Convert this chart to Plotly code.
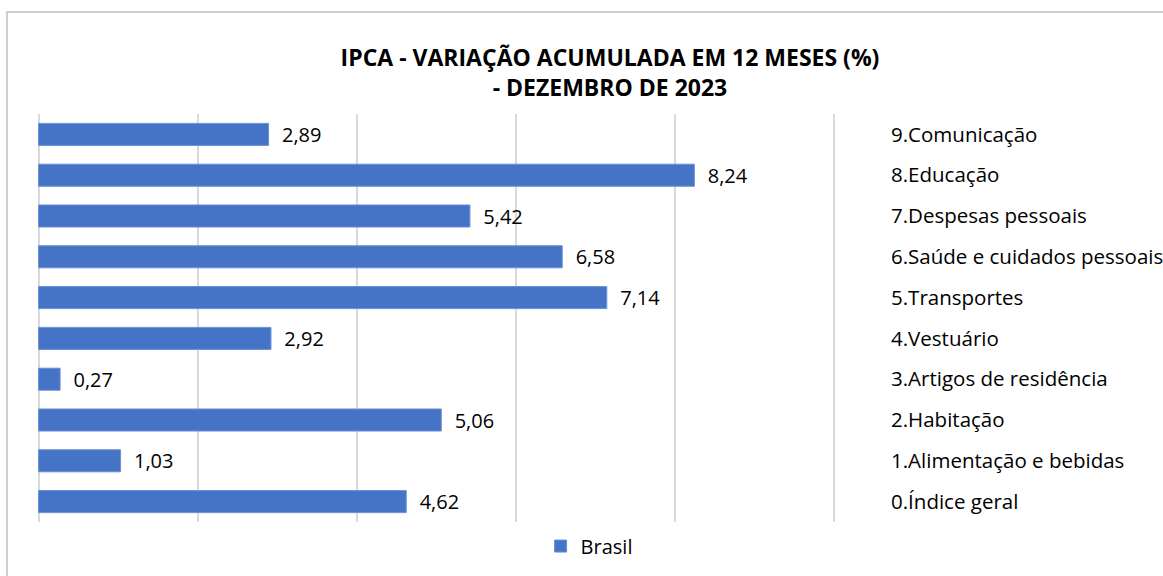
import plotly.graph_objects as go

categories = [
    "0.Índice geral",
    "1.Alimentação e bebidas",
    "2.Habitação",
    "3.Artigos de residência",
    "4.Vestuário",
    "5.Transportes",
    "6.Saúde e cuidados pessoais",
    "7.Despesas pessoais",
    "8.Educação",
    "9.Comunicação",
]
values = [4.62, 1.03, 5.06, 0.27, 2.92, 7.14, 6.58, 5.42, 8.24, 2.89]
series_name = "Brasil"
title_text = "<b>IPCA - VARIAÇÃO ACUMULADA EM 12 MESES (%)<br>- DEZEMBRO DE 2023</b>"

FONT = "Open Sans"

fig = go.Figure()
fig.add_trace(go.Bar(
    y=categories,
    x=values,
    orientation="h",
    name=series_name,
    marker=dict(color="#4573C6", line=dict(color="#6990D6", width=1)),
    texttemplate="  %{x:.2f}",
    textposition="outside",
    constraintext="none",
    textfont=dict(family=FONT, size=20, color="#000000"),
    cliponaxis=False,
    showlegend=True,
))

fig.update_layout(
    width=1163,
    height=576,
    separators=",.",
    paper_bgcolor="white",
    plot_bgcolor="white",
    margin=dict(l=37, r=327, t=114, b=54, autoexpand=False),
    bargap=0.46,
    font=dict(family=FONT, size=18, color="#000000"),
    title=dict(
        text=title_text,
        x=0.5245, xanchor="center", xref="container",
        y=0.886, yanchor="middle", yref="container",
        font=dict(family=FONT, size=23, color="#000000"),
    ),
    xaxis=dict(
        range=[-0.02, 10.02], dtick=2, tick0=0,
        showticklabels=False, ticks="",
        showgrid=True, gridcolor="#D9D9D9", gridwidth=1.5,
        zeroline=False, showline=False, fixedrange=True,
    ),
    yaxis=dict(
        side="right", type="category",
        showgrid=False, zeroline=False, showline=False, ticks="",
        ticklabelstandoff=54,
        tickfont=dict(family=FONT, size=20.5, color="#000000"),
    ),
    legend=dict(
        orientation="h",
        x=0.691, xanchor="center",
        y=-0.059, yanchor="middle",
        font=dict(family=FONT, size=20, color="#000000"),
        itemwidth=30,
    ),
    shapes=[
        dict(type="rect", xref="paper", yref="paper",
             x0=-0.0375, x1=1.5, y0=-0.5, y1=1.25,
             line=dict(color="#BFBFBF", width=1.5), fillcolor="rgba(0,0,0,0)", layer="below"),
    ],
)

fig.write_html("out.html", config={"displayModeBar": False},
               post_script="document.body.style.margin='0';")
